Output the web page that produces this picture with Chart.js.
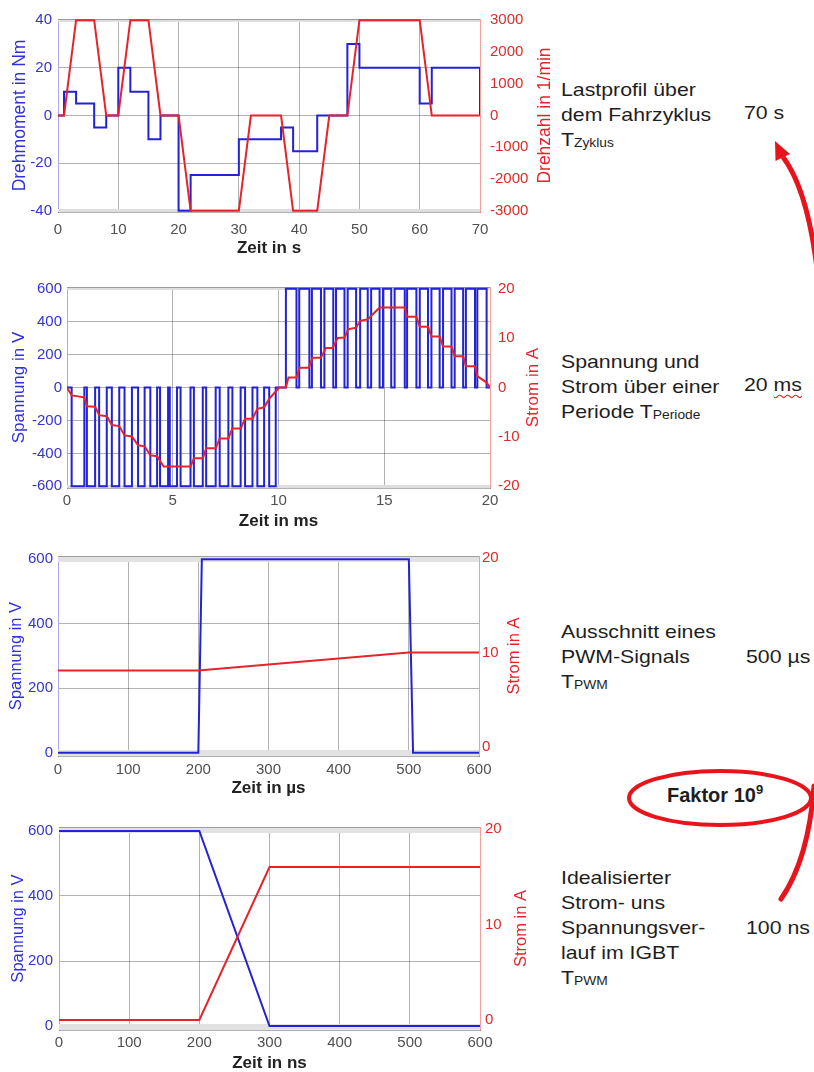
<!DOCTYPE html>
<html lang="de">

<head>
  <meta charset="UTF-8" />
  <title>Zeitskalen im Antrieb</title>
  <style>
    body { margin: 0; background: #fff; font-family: "Liberation Sans", Arial, sans-serif; }
    #seite { position: relative; width: 814px; height: 1072px; overflow: hidden; }
    canvas { position: absolute; left: 0; }
    .text { position: absolute; font-size: 18.5px; line-height: 25px; color: #1e1e1e; white-space: nowrap;
            transform: scaleX(1.15); transform-origin: 0 0; }
    .tief { font-size: 12px; vertical-align: -1px; }
    .welle { text-decoration: underline wavy #e02020; text-decoration-thickness: 1px; text-underline-offset: 3px; }
    #faktor { position: absolute; left: 667px; top: 782px; font-size: 20px; line-height: 26px; font-weight: bold; color: #1e1e1e; }
    #faktor sup { font-size: 13px; vertical-align: 8px; line-height: 0; }
    svg { position: absolute; left: 0; top: 0; pointer-events: none; }
  </style>
</head>

<body>
  <div id="seite">
    <canvas id="lastprofil" width="560" height="262" style="top:0px"></canvas>
    <canvas id="periode" width="560" height="265" style="top:270px"></canvas>
    <canvas id="pwm" width="560" height="262" style="top:540px"></canvas>
    <canvas id="igbt" width="560" height="262" style="top:810px"></canvas>

    <!-- Beschriftungen rechts -->
    <div class="text" style="left:561px; top:77px">Lastprofil über<br>dem Fahrzyklus<br>T<span class="tief">Zyklus</span></div>
    <div class="text" style="left:744px; top:100px">70 s</div>

    <div class="text" style="left:561px; top:349px">Spannung und<br>Strom über einer<br>Periode T<span class="tief">Periode</span></div>
    <div class="text" style="left:744px; top:372px">20 <span class="welle">ms</span></div>

    <div class="text" style="left:561px; top:619px">Ausschnitt eines<br>PWM-Signals<br>T<span class="tief">PWM</span></div>
    <div class="text" style="left:746px; top:644px">500 µs</div>

    <div class="text" style="left:561px; top:865px">Idealisierter<br>Strom- uns<br>Spannungsver-<br>lauf im IGBT<br>T<span class="tief">PWM</span></div>
    <div class="text" style="left:746px; top:915px">100 ns</div>

    <div id="faktor">Faktor 10<sup>9</sup></div>

    <svg width="814" height="1072">
      <ellipse cx="720" cy="798" rx="91" ry="27" fill="none" stroke="#e8141c" stroke-width="4" />
      <path d="M 781 899 C 797 876, 810 840, 814 786" fill="none" stroke="#e8141c" stroke-width="5" stroke-linecap="round" />
      <path d="M 783 157 C 804 185, 815 235, 820 300" fill="none" stroke="#e8141c" stroke-width="5" />
      <polygon points="775,141 790,154 775.5,161" fill="#e8141c" />
    </svg>
  </div>

  <script src="https://cdn.jsdelivr.net/npm/chart.js"></script>
  <script>
    // ---- Diagramm 1: Lastprofil ueber dem Fahrzyklus ----
    const zeitMoment = [0, 1, 3, 6, 8, 10, 12, 15, 17, 20, 22, 30, 37, 39, 43, 48, 50, 60, 62, 70];
    const drehmoment = [0, 10, 5, -5, 0, 20, 10, -10, 0, -40, -25, -10, -5, -15, 0, 30, 20, 5, 20, 0];
    const zeitDrehzahl = [0, 1, 3, 6, 8, 10, 12, 15, 17, 20, 22, 30, 32, 37, 39, 43, 45, 48, 50, 60, 62, 70];
    const drehzahl = [0, 0, 3000, 3000, 0, 0, 3000, 3000, 0, 0, -3000, -3000, 0, 0, -3000, -3000, 0, 0, 3000, 3000, 0, 0];
    const ticksZeitS = [0, 10, 20, 30, 40, 50, 60, 70];
    const ticksMoment = [-40, -20, 0, 20, 40];
    const ticksDrehzahl = [-3000, -2000, -1000, 0, 1000, 2000, 3000];

    // ---- Diagramm 2: eine Periode (PWM-Pulse und Strom) ----
    const pulsNegEin = [0.22, 0.94, 1.52, 2.12, 2.72, 3.36, 3.94, 4.40, 4.86, 5.37, 6.00, 6.58, 7.22, 7.82, 8.42, 9.00, 9.56];
    const pulsNegAus = [0.82, 1.33, 1.88, 2.47, 3.07, 3.67, 4.26, 4.78, 5.20, 5.84, 6.42, 7.03, 7.63, 8.21, 8.77, 9.32, 9.87];
    const pulsPosEin = [10.35, 10.98, 11.58, 12.17, 12.72, 13.27, 13.86, 14.38, 14.94, 15.49, 16.08, 16.68, 17.23, 17.78, 18.33, 18.86, 19.40];
    const pulsPosAus = [10.85, 11.46, 12.01, 12.59, 13.12, 13.67, 14.22, 14.78, 15.33, 15.97, 16.52, 17.07, 17.62, 18.18, 18.73, 19.29, 19.84];
    const pulsHoehe = 600;
    const stromZeit = [0, 0.22, 0.82, 0.94, 1.33, 1.52, 1.88, 2.12, 2.47, 2.72, 3.07, 3.36, 3.67, 3.94, 4.26, 4.57, 5.84,
      6.00, 6.42, 6.58, 7.03, 7.22, 7.63, 7.82, 8.21, 8.42, 8.77, 9.00, 9.32, 9.56, 10.03, 10.35, 10.47, 10.85, 11.00,
      11.43, 11.61, 12.00, 12.24, 12.56, 12.80, 13.12, 13.30, 13.67, 13.86, 14.22, 14.78, 15.97, 16.08, 16.52, 16.68,
      17.07, 17.23, 17.62, 17.78, 18.18, 18.33, 18.73, 18.86, 19.29, 19.40, 19.84, 20.00];
    const stromPeriode = [0, -1.6, -2.0, -3.8, -3.9, -5.6, -5.8, -7.6, -7.8, -9.7, -9.9, -11.7, -11.9, -13.7, -13.9, -16.0, -16.0,
      -14.3, -14.3, -12.3, -12.3, -10.3, -10.3, -8.3, -8.3, -6.3, -6.3, -4.3, -4.0, -2.3, 0, 0, 2.0, 2.0, 4.0,
      4.0, 6.0, 6.0, 8.0, 8.0, 10.0, 10.1, 11.8, 12.1, 13.5, 13.8, 16.2, 16.2, 14.3, 14.3, 12.3,
      12.3, 10.3, 10.3, 8.3, 8.3, 6.3, 6.3, 4.3, 4.3, 2.3, 1.0, 0];
    const ticksZeitMs = [0, 5, 10, 15, 20];
    const ticksSpannung2 = [-600, -400, -200, 0, 200, 400, 600];
    const ticksStrom2 = [-20, -10, 0, 10, 20];

    // ---- Diagramm 3: Ausschnitt PWM-Signal ----
    const zeitPwm = [0, 200, 205, 500, 506, 600];
    const spannungPwm = [0, 0, 600, 600, 0, 0];
    const zeitStromPwm = [0, 200, 500, 600];
    const stromPwm = [8.1, 8.1, 10, 10];

    // ---- Diagramm 4: Schaltvorgang im IGBT ----
    const zeitIgbt = [0, 200, 300, 600];
    const spannungIgbt = [600, 600, 0, 0];
    const stromIgbt = [0, 0, 16, 16];

    const ticksZeit600 = [0, 100, 200, 300, 400, 500, 600];
    const ticksSpannung = [0, 200, 400, 600];
    const ticksStrom = [0, 10, 20];

    const BLAU = '#2222d6';
    const ROT = '#e6232a';
    const GITTER = 'rgba(0,0,0,0.3)';

    Chart.defaults.font.family = '"Liberation Sans", Arial, sans-serif';

    function punkte(xs, ys) {
      return xs.map((x, i) => ({ x: x, y: ys[i] }));
    }

    // Pulse als Stufenpunkte (Wert gilt bis zum naechsten Punkt)
    function pulsPunkte(ein, aus, hoehe) {
      const p = [];
      ein.forEach((t, i) => { p.push({ x: t, y: hoehe }); p.push({ x: aus[i], y: 0 }); });
      return p;
    }

    function festeTicks(werte) {
      return function (achse) { achse.ticks = werte.map(v => ({ value: v })); };
    }

    // Rahmen, graue Baender oben/unten und rechter Achsentitel (von unten nach oben)
    const rahmenPlugin = {
      id: 'rahmen',
      beforeDatasetsDraw(chart, args, o) {
        const a = chart.chartArea, ctx = chart.ctx;
        ctx.save();
        ctx.fillStyle = o.bandFarbe;
        ctx.fillRect(a.left, a.top, a.right - a.left, o.band);
        ctx.fillRect(a.left, a.bottom - o.band, a.right - a.left, o.band);
        ctx.strokeStyle = 'rgba(0,0,0,0.3)';
        ctx.lineWidth = 1;
        ctx.beginPath();
        ctx.moveTo(a.left, a.top + 0.5);
        ctx.lineTo(a.right, a.top + 0.5);
        ctx.stroke();
        ctx.restore();
      },
      afterDraw(chart, args, o) {
        const a = chart.chartArea, ctx = chart.ctx;
        ctx.save();
        ctx.translate(o.titelX, (a.top + a.bottom) / 2);
        ctx.rotate(-Math.PI / 2);
        ctx.fillStyle = ROT;
        ctx.font = o.titelGroesse + 'px "Liberation Sans", Arial, sans-serif';
        ctx.textAlign = 'center';
        ctx.textBaseline = 'middle';
        ctx.fillText(o.titel, 0, 0);
        ctx.restore();
      }
    };
    Chart.register(rahmenPlugin);

    function diagramm(id, d) {
      return new Chart(document.getElementById(id), {
        type: 'line',
        data: {
          datasets: [
            { data: d.rot, yAxisID: 'y1', borderColor: ROT, borderWidth: 2, pointRadius: 0, tension: 0 },
            { data: d.blau, yAxisID: 'y', borderColor: BLAU, borderWidth: 2, pointRadius: 0, tension: 0,
              stepped: d.stufen ? 'before' : false }
          ]
        },
        options: {
          responsive: false,
          devicePixelRatio: 1,
          animation: false,
          layout: { padding: { top: d.oben, left: 0, right: 0, bottom: 0 } },
          plugins: {
            legend: { display: false },
            tooltip: { enabled: false },
            rahmen: { band: d.band, bandFarbe: d.bandFarbe, titel: d.rechtsTitel, titelX: d.rechtsTitelX, titelGroesse: d.titelGroesse }
          },
          scales: {
            x: {
              type: 'linear', min: d.xMin, max: d.xMax,
              afterBuildTicks: festeTicks(d.xTicks),
              afterFit: s => { s.height = d.xHoehe; },
              grid: {
                drawTicks: false,
                color: c => (c.tick && (c.tick.value === d.xMin || c.tick.value === d.xMax)) ? 'rgba(0,0,0,0)' : GITTER
              },
              border: { color: 'rgba(0,0,0,0.3)' },
              ticks: { color: '#505050', font: { size: 15 }, padding: d.xTickAbstand, maxRotation: 0, callback: v => String(v) },
              title: { display: true, text: d.xTitel, color: '#222', font: { size: 17, weight: 'bold', lineHeight: 1 },
                padding: { top: 0, bottom: d.xTitelAbstand } }
            },
            y: {
              position: 'left', min: d.yMin, max: d.yMax,
              afterBuildTicks: festeTicks(d.yTicks),
              afterFit: s => { s.width = d.links; },
              grid: { drawTicks: false, color: GITTER },
              border: { color: 'rgba(60,60,230,0.45)' },
              ticks: { color: '#3434d2', font: { size: 15 }, padding: d.yTickAbstand, callback: v => String(v) },
              title: { display: true, text: d.linksTitel, color: '#3030dc', font: { size: d.titelGroesse, lineHeight: 1 },
                padding: { top: d.linksTitelAbstand, bottom: 0 } }
            },
            y1: {
              position: 'right', min: d.y1Min, max: d.y1Max,
              afterBuildTicks: festeTicks(d.y1Ticks),
              afterFit: s => { s.width = d.rechts; },
              grid: { drawOnChartArea: false, drawTicks: false },
              border: { color: 'rgba(230,40,40,0.45)' },
              ticks: { color: '#e02a2a', font: { size: 15 }, padding: d.y1TickAbstand, callback: v => String(v) }
            }
          }
        }
      });
    }

    diagramm('lastprofil', {
      blau: punkte(zeitMoment, drehmoment), stufen: true,
      rot: punkte(zeitDrehzahl, drehzahl),
      oben: 13, xHoehe: 50, links: 58, rechts: 80, band: 3, bandFarbe: '#dedede',
      xMin: 0, xMax: 70, xTicks: ticksZeitS, xTickAbstand: 9, xTitel: 'Zeit in s', xTitelAbstand: 5,
      yMin: -40.5, yMax: 40.5, yTicks: ticksMoment, yTickAbstand: 6,
      linksTitel: 'Drehmoment in Nm', linksTitelAbstand: 11.5, titelGroesse: 17.5,
      y1Min: -3037.5, y1Max: 3037.5, y1Ticks: ticksDrehzahl, y1TickAbstand: 10,
      rechtsTitel: 'Drehzahl in 1/min', rechtsTitelX: 545
    });

    diagramm('periode', {
      blau: [{ x: 0, y: 0 }].concat(pulsPunkte(pulsNegEin, pulsNegAus, -pulsHoehe),
        pulsPunkte(pulsPosEin, pulsPosAus, pulsHoehe), [{ x: 20, y: 0 }]), stufen: true,
      rot: punkte(stromZeit, stromPeriode),
      oben: 16, xHoehe: 47, links: 67, rechts: 70, band: 3, bandFarbe: '#dedede',
      xMin: 0, xMax: 20, xTicks: ticksZeitMs, xTickAbstand: 4, xTitel: 'Zeit in ms', xTitelAbstand: 5.5,
      yMin: -610, yMax: 610, yTicks: ticksSpannung2, yTickAbstand: 5,
      linksTitel: 'Spannung in V', linksTitelAbstand: 11, titelGroesse: 17,
      y1Min: -610 / 30, y1Max: 610 / 30, y1Ticks: ticksStrom2, y1TickAbstand: 8,
      rechtsTitel: 'Strom in A', rechtsTitelX: 533
    });

    diagramm('pwm', {
      blau: punkte(zeitPwm, spannungPwm), stufen: false,
      rot: punkte(zeitStromPwm, stromPwm),
      oben: 16, xHoehe: 46, links: 58, rechts: 81, band: 6, bandFarbe: '#e2e2e2',
      xMin: 0, xMax: 600, xTicks: ticksZeit600, xTickAbstand: 5, xTitel: 'Zeit in µs', xTitelAbstand: 5.5,
      yMin: -10, yMax: 610, yTicks: ticksSpannung, yTickAbstand: 5,
      linksTitel: 'Spannung in V', linksTitelAbstand: 8, titelGroesse: 16.5,
      y1Min: -0.95, y1Max: 20.2, y1Ticks: ticksStrom, y1TickAbstand: 3,
      rechtsTitel: 'Strom in A', rechtsTitelX: 514
    });

    diagramm('igbt', {
      blau: punkte(zeitIgbt, spannungIgbt), stufen: false,
      rot: punkte(zeitIgbt, stromIgbt),
      oben: 17, xHoehe: 42, links: 59, rechts: 80, band: 6, bandFarbe: '#e2e2e2',
      xMin: 0, xMax: 600, xTicks: ticksZeit600, xTickAbstand: 4, xTitel: 'Zeit in ns', xTitelAbstand: 0,
      yMin: -12, yMax: 612, yTicks: ticksSpannung, yTickAbstand: 6,
      linksTitel: 'Spannung in V', linksTitelAbstand: 10, titelGroesse: 16.5,
      y1Min: -1.05, y1Max: 20.2, y1Ticks: ticksStrom, y1TickAbstand: 5,
      rechtsTitel: 'Strom in A', rechtsTitelX: 521
    });
  </script>
</body>

</html>
